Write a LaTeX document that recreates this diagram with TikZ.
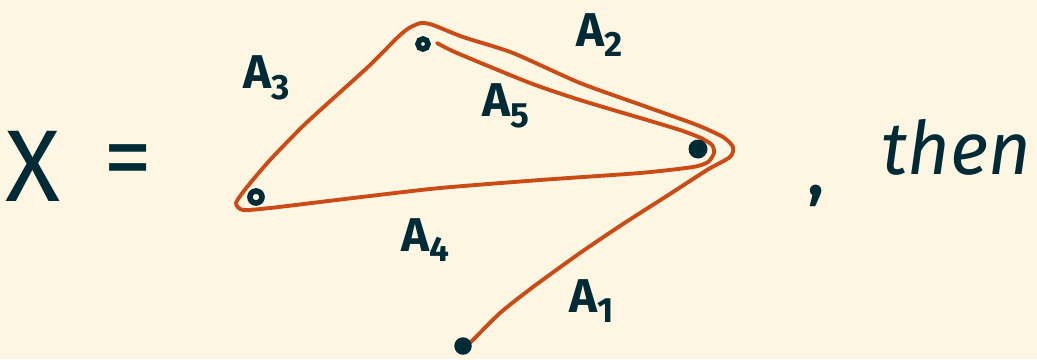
\documentclass[tikz,border=0pt]{standalone}
\usepackage{fontspec}
\setmainfont{Fira Sans}
\usepackage{xcolor}
\definecolor{papercream}{HTML}{FDF6E3}
\definecolor{pathorange}{HTML}{CB4B16}
\definecolor{inkdark}{HTML}{002B36}
\newcommand\edgesub[1]{\raisebox{-0.22em}{\fontsize{20}{20}\selectfont#1}}

\begin{document}
\begin{tikzpicture}[
  x=0.02cm,y=-0.02cm,
  opendot/.style={draw=inkdark,line width=3.2pt,circle,inner sep=0pt,minimum size=2mm},
  fulldot/.style={fill=inkdark,circle,inner sep=0pt,minimum size=3.5mm},
  label/.style={text=inkdark,font=\bfseries\fontsize{27}{27}\selectfont},
  every node/.style={text=inkdark}
]
  \fill[papercream] (0,0) rectangle (1037,359);
  \useasboundingbox (0,0) rectangle (1037,359);

  % the walk
  \draw[pathorange,line width=2.2pt,line cap=round,line join=round]
    plot[smooth,tension=0.4] coordinates {
      (437,43) (457,53) (530,83) (580,100) (647,120) (680,130) (701,138)
      (712,145) (714,153) (708,162) (693,167) (640,173) (540,180) (440,188)
      (370,196) (320,202) (270,208) (243,210) (236,203) (247,187) (270,160)
      (303,126) (337,95) (369,66) (398,37) (409,28) (421,23) (433,25)
      (463,37) (513,53) (580,83) (647,107) (697,125) (723,137) (733,147)
      (730,157) (707,170) (673,192) (623,224) (580,253) (533,287) (500,313)
      (470,343)};

  % vertices
  \node[opendot] (top) at (423,44) {};
  \node[opendot,minimum width=1.6mm,minimum height=2.4mm] (left) at (256,197) {};
  \node[fulldot,minimum height=3.8mm] (right) at (698,149) {};
  \node[fulldot] (bottom) at (463,346) {};

  % edge names
  \node[label] (aone) at (592,301) {A\edgesub{1}};
  \node[label] (atwo) at (600,35) {A\edgesub{2}};
  \node[label] (athree) at (267,78) {A\edgesub{3}};
  \node[label] (afour) at (425,240) {A\edgesub{4}};
  \node[label] (afive) at (506,106) {A\edgesub{5}};

  \node[font=\fontsize{58}{58}\selectfont] (xname) at (33,166) {X};
  \node[font=\fontsize{56}{56}\selectfont] (equals) at (128,168) {=};
  \node[font=\bfseries\fontsize{36}{36}\selectfont] (comma) at (816,196) {,};
  \node[font=\itshape\fontsize{42}{42}\selectfont] (then) at (956,147) {then};
\end{tikzpicture}
\end{document}
